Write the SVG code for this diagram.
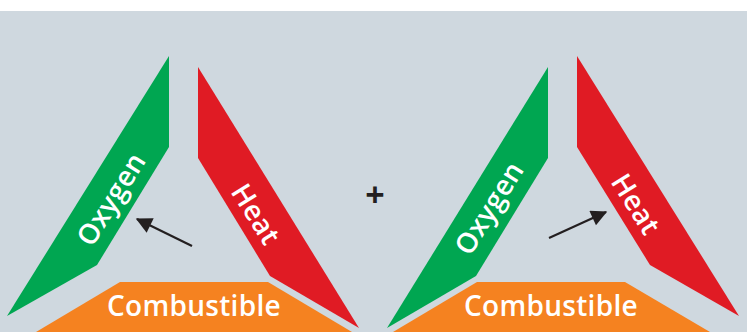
<svg xmlns="http://www.w3.org/2000/svg" width="747" height="332" viewBox="0 0 747 332">
<defs>
<style>
.bg{fill:#cfd8df}
.ox{fill:#00a651}
.ht{fill:#e01b24}
.cb{fill:#f58220}
.lbl{font-family:"Open Sans","Liberation Sans",sans-serif;font-weight:600;font-size:28px;letter-spacing:0.3px;fill:#ffffff;text-anchor:middle}
.plus{font-family:"Open Sans","Liberation Sans",sans-serif;font-weight:700;font-size:34px;fill:#231f20;text-anchor:middle}
.arr{stroke:#231f20;stroke-width:2.2;fill:none}
</style>
<marker id="ah2" viewBox="0 0 12 12" refX="11" refY="6" markerWidth="18" markerHeight="16" markerUnits="userSpaceOnUse" orient="auto">
<path d="M0,0 L12,6 L0,12 z" fill="#231f20"/>
</marker>
</defs>
<rect x="0" y="0" width="747" height="332" fill="#ffffff"/>
<rect class="bg" x="0" y="11" width="747" height="321"/>
<g id="left-triangle">
<g id="left-oxygen">
<polygon class="ox" points="169,56 169,147 97,265 7,316"/>
<text class="lbl" transform="translate(111,199) rotate(-58)" y="10">Oxygen</text>
</g>
<g id="left-heat">
<polygon class="ht" points="198,67 198,158 270,276 359,328"/>
<text class="lbl" transform="translate(256,214) rotate(58)" y="10">Heat</text>
</g>
<g id="left-combustible">
<polygon class="cb" points="120,282 268,282 352,332 36,332"/>
<text class="lbl" x="194" y="316">Combustible</text>
</g>
</g>
<g id="plus">
<text class="plus" x="375" y="207">+</text>
</g>
<g id="right-triangle">
<g id="right-oxygen">
<polygon class="ox" points="548,67 548,158 476,276 387,328"/>
<text class="lbl" transform="translate(489,208) rotate(-58)" y="10">Oxygen</text>
</g>
<g id="right-heat">
<polygon class="ht" points="577,56 577,147 650,265 739,316"/>
<text class="lbl" transform="translate(636,204) rotate(58)" y="10">Heat</text>
</g>
<g id="right-combustible">
<polygon class="cb" points="477,282 625,282 710,332 393,332"/>
<text class="lbl" x="551" y="316">Combustible</text>
</g>
</g>
<g id="connectors">
<line class="arr" x1="192" y1="246" x2="137" y2="219" marker-end="url(#ah2)"/>
<line class="arr" x1="549" y1="238" x2="606" y2="212" marker-end="url(#ah2)"/>
</g>
</svg>
